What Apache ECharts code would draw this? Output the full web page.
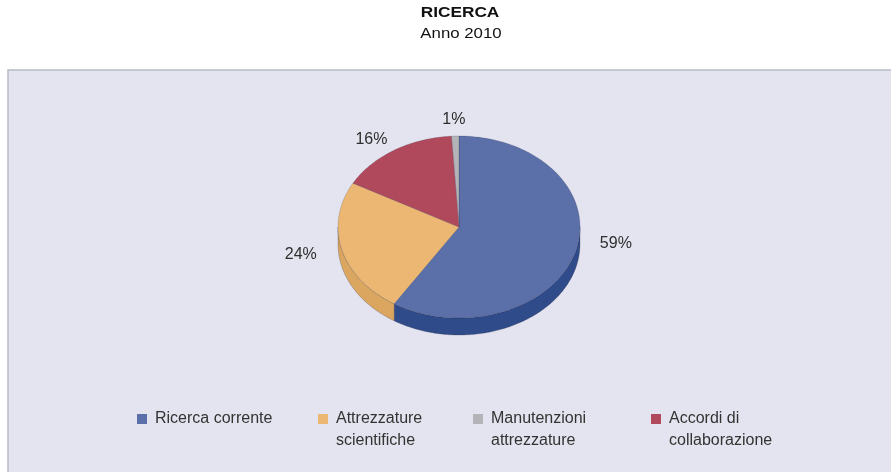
<!DOCTYPE html>
<html>
<head>
<meta charset="utf-8">
<script src="https://cdn.jsdelivr.net/npm/echarts@6/dist/echarts.min.js"></script>
<style>
  html, body { margin: 0; padding: 0; background: #ffffff; }
  #chart { width: 891px; height: 472px; }
</style>
</head>
<body>
<div id="chart"></div>
<script>
// Categories (legend order), their shares in percent and legend wording
const categories = ['Ricerca corrente', 'Attrezzature scientifiche', 'Manutenzioni attrezzature', 'Accordi di collaborazione'];
const legendLines = ['Ricerca corrente', 'Attrezzature\nscientifiche', 'Manutenzioni\nattrezzature', 'Accordi di\ncollaborazione'];
const shares = [59, 24, 1, 16];
// Order in which the slices run clockwise from twelve o'clock
const sliceOrder = [0, 1, 3, 2];

const chartTitle = 'RICERCA';
const chartSubtitle = 'Anno 2010';

const topColors = ['#5b6fa9', '#ebb772', '#b3b3b8', '#b1495d'];
const sideColors = ['#2f4b8a', '#dba660', '#8e8e92', '#853246'];

// Geometry of the tilted pie (top face ellipse + visible depth)
const pie = { cx: 459, cy: 227, rx: 121, ry: 91, depth: 17 };
const legendLeft = [137, 318, 473, 651];
const FONT = '"Liberation Sans", Arial, sans-serif';

const total = shares.reduce((a, b) => a + b, 0);
function startShare(idx) {
  let s = 0;
  for (const k of sliceOrder) { if (k === idx) return s; s += shares[k]; }
  return s;
}
function pt(theta, dy) {
  return [pie.cx + pie.rx * Math.sin(theta), pie.cy - pie.ry * Math.cos(theta) + (dy || 0)];
}

function renderSlice(idx) {
  return function (params, api) {
    const v = api.value(0);
    const a0 = startShare(idx) / total * 2 * Math.PI;
    const a1 = a0 + v / total * 2 * Math.PI;
    const step = Math.PI / 180;
    const children = [];

    // Front wall: only the part of the rim facing the viewer
    const s0 = Math.max(a0, Math.PI / 2), s1 = Math.min(a1, 3 * Math.PI / 2);
    if (s1 > s0) {
      const upper = [], lower = [];
      const n = Math.max(2, Math.ceil((s1 - s0) / step));
      for (let i = 0; i <= n; i++) {
        const t = s0 + (s1 - s0) * i / n;
        upper.push(pt(t));
        lower.push(pt(t, pie.depth));
      }
      children.push({
        type: 'polygon',
        shape: { points: upper.concat(lower.reverse()) },
        style: { fill: sideColors[idx], stroke: 'rgba(40,40,60,0.35)', lineWidth: 0.7 }
      });
    }

    // Top face sector
    const pts = [[pie.cx, pie.cy]];
    const m = Math.max(2, Math.ceil((a1 - a0) / step));
    for (let i = 0; i <= m; i++) pts.push(pt(a0 + (a1 - a0) * i / m));
    children.push({
      type: 'polygon',
      shape: { points: pts },
      style: { fill: topColors[idx], stroke: 'rgba(40,40,60,0.3)', lineWidth: 0.6 }
    });

    // Percentage label outside the rim (label ring slightly tilted)
    const mid = (a0 + a1) / 2;
    children.push({
      type: 'text',
      style: {
        text: v + '%',
        x: pie.cx + 1.35 * pie.rx * Math.sin(mid),
        y: pie.cy - 5 - 1.13 * pie.ry * Math.cos(mid) - 7.5 * Math.sin(mid),
        align: 'center',
        verticalAlign: 'middle',
        font: '16px ' + FONT,
        fill: '#2e2e2e'
      }
    });
    return { type: 'group', children: children };
  };
}

const chart = echarts.init(document.getElementById('chart'), null, { renderer: 'canvas' });

chart.setOption({
  animation: false,
  backgroundColor: '#ffffff',
  graphic: {
    elements: [
      {
        type: 'rect',
        z: -10,
        silent: true,
        shape: { x: 8, y: 70, width: 900, height: 420 },
        style: { fill: '#e3e4ef', stroke: '#b9bac3', lineWidth: 1.5 }
      },
      {
        type: 'text',
        x: 460, y: 13,
        scaleX: 1.15,
        style: { text: chartTitle, align: 'center', verticalAlign: 'middle', font: 'bold 15px ' + FONT, fill: '#111' }
      },
      {
        type: 'text',
        x: 461, y: 34,
        scaleX: 1.12,
        style: { text: chartSubtitle, align: 'center', verticalAlign: 'middle', font: '15px ' + FONT, fill: '#111' }
      }
    ]
  },
  legend: categories.map((name, i) => ({
    data: [name],
    left: legendLeft[i],
    top: 386,
    padding: 0,
    icon: 'rect',
    itemWidth: 10,
    itemHeight: 10,
    selectedMode: false,
    formatter: () => '\n' + legendLines[i] + (legendLines[i].indexOf('\n') < 0 ? '\n' : ''),
    textStyle: {
      fontFamily: FONT,
      fontSize: 16,
      lineHeight: 22,
      color: '#333',
      padding: [0, 0, 0, 3]
    }
  })),
  series: categories.map((name, i) => ({
    type: 'custom',
    name: name,
    coordinateSystem: 'none',
    silent: true,
    itemStyle: { color: topColors[i] },
    data: [[shares[i]]],
    renderItem: renderSlice(i)
  }))
});
</script>
</body>
</html>
